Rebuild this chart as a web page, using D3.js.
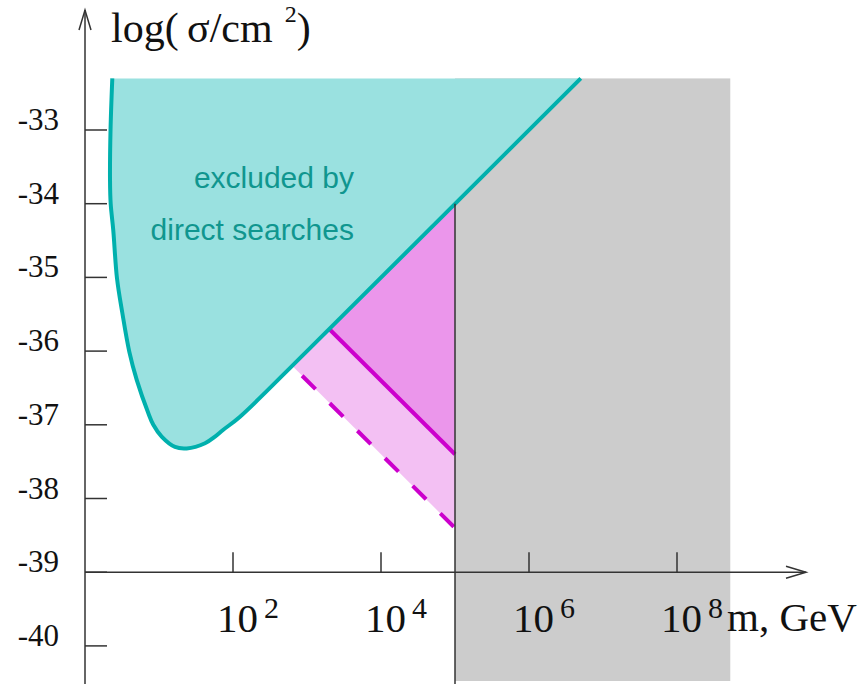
<!DOCTYPE html>
<html>
<head>
<meta charset="utf-8">
<script src="https://cdn.jsdelivr.net/npm/d3@7"></script>
<style>
  body { margin: 0; background: #fff; }
  svg { display: block; }
  .serif { font-family: "Liberation Serif", "Times New Roman", serif; fill: #111; }
</style>
</head>
<body>
<div class="chart"></div>
<script>
// log10(m / GeV) and log10(sigma / cm^2)
const massTicks = [2, 4, 6, 8];
const sigmaTicks = [-33, -34, -35, -36, -37, -38, -39, -40];

// boundary of the region excluded by direct searches
const boundLogM  = [0.369, 0.345, 0.338, 0.347, 0.382, 0.432, 0.504, 0.599, 0.699, 0.855, 0.923, 1.036, 1.216, 1.374, 1.622, 1.757, 1.865, 2.095, 3.0, 6.7];
const boundSigma = [-32.3, -33.0, -33.68, -34.0, -34.36, -35.01, -35.48, -36.01, -36.39, -36.84, -37.0, -37.16, -37.3, -37.32, -37.25, -37.16, -37.07, -36.89, -36.0, -32.3];

const plotTop = -32.3;
const grayRange = [5, 8.72];      // shaded mass range
const cutMass = 5;                // vertical line

// magenta bands: from the boundary line down to the cut
const solidLine  = [[3.3, -35.7], [5, -37.4]];
const dashedLine = [[2.8, -36.2], [5, -38.4]];

const width = 862, height = 684;

const x = d3.scaleLinear().domain([0, 9]).range([85, 85 + 9 * 74]);
const y = d3.scaleLinear().domain([-39, -33]).range([572.2, 130]);

const svg = d3.select('.chart')
  .append('svg')
  .attr('width', width)
  .attr('height', height);

// gray band
svg.append('rect')
  .attr('x', x(grayRange[0]))
  .attr('y', y(plotTop))
  .attr('width', x(grayRange[1]) - x(grayRange[0]))
  .attr('height', 681 - y(plotTop))
  .attr('fill', '#cccccc');

const bound = boundLogM.map((d, i) => [d, boundSigma[i]]);

const line = d3.line()
  .x(d => x(d[0]))
  .y(d => y(d[1]))
  .curve(d3.curveCatmullRom.alpha(0.5));

// excluded region
svg.append('path')
  .attr('d', line(bound) + 'Z')
  .attr('fill', '#9ae1e0');

// light and dark magenta bands
const onLine = (m) => [m, m - 39];
const lightBand = [dashedLine[0], onLine(solidLine[0][0]), solidLine[1], dashedLine[1]];
const darkBand = [solidLine[0], onLine(cutMass), solidLine[1]];

const poly = d3.line().x(d => x(d[0])).y(d => y(d[1]));

svg.append('path')
  .attr('d', poly(lightBand) + 'Z')
  .attr('fill', '#f3c0f3');

svg.append('path')
  .attr('d', poly(darkBand) + 'Z')
  .attr('fill', '#eb96eb');

svg.append('path')
  .attr('d', poly(solidLine))
  .attr('fill', 'none')
  .attr('stroke', '#cc00cc')
  .attr('stroke-width', 4);

svg.append('path')
  .attr('d', poly(dashedLine))
  .attr('fill', 'none')
  .attr('stroke', '#cc00cc')
  .attr('stroke-width', 4)
  .attr('stroke-dasharray', '19,20')
  .attr('stroke-dashoffset', 25);

// boundary stroke
svg.append('path')
  .attr('d', line(bound))
  .attr('fill', 'none')
  .attr('stroke', '#00b0ad')
  .attr('stroke-width', 4);

// vertical cut line
svg.append('line')
  .attr('x1', x(cutMass)).attr('x2', x(cutMass))
  .attr('y1', y(cutMass - 39)).attr('y2', height)
  .attr('stroke', '#333')
  .attr('stroke-width', 1.5);

// axes
const axisG = svg.append('g')
  .attr('stroke', '#333')
  .attr('stroke-width', 1.5)
  .attr('fill', 'none');

axisG.append('line')
  .attr('x1', x(0)).attr('x2', x(0))
  .attr('y1', 10).attr('y2', height);
axisG.append('path')
  .attr('d', `M${x(0) - 6},30L${x(0)},10L${x(0) + 6},30`);

axisG.append('line')
  .attr('x1', x(0)).attr('x2', 806)
  .attr('y1', y(-39)).attr('y2', y(-39));
axisG.append('path')
  .attr('d', `M786,${y(-39) - 6}L806,${y(-39)}L786,${y(-39) + 6}`);

axisG.selectAll('.ytick')
  .data(sigmaTicks)
  .join('line')
  .attr('x1', x(0)).attr('x2', x(0) + 22)
  .attr('y1', d => y(d)).attr('y2', d => y(d));

axisG.selectAll('.xtick')
  .data(massTicks)
  .join('line')
  .attr('x1', d => x(d)).attr('x2', d => x(d))
  .attr('y1', y(-39) - 20).attr('y2', y(-39));

// tick labels
svg.selectAll('.ylab')
  .data(sigmaTicks)
  .join('text')
  .attr('class', 'serif')
  .attr('x', 59)
  .attr('y', d => y(d))
  .attr('text-anchor', 'end')
  .attr('font-size', 31)
  .text(d => '-' + Math.abs(d));

const xl = svg.selectAll('.xlab')
  .data(massTicks)
  .join('text')
  .attr('class', 'serif')
  .attr('x', d => x(d) - 16)
  .attr('y', 632)
  .attr('font-size', 41);
xl.append('tspan').text('10');
xl.append('tspan')
  .attr('font-size', 30)
  .attr('dx', 6)
  .attr('dy', -14)
  .text(d => d);

svg.append('text')
  .attr('class', 'serif')
  .attr('x', 727)
  .attr('y', 631)
  .attr('font-size', 41)
  .text('m, GeV');

const yl = svg.append('text')
  .attr('class', 'serif')
  .attr('x', 111)
  .attr('y', 42)
  .attr('font-size', 42);
yl.append('tspan').text('log(\u2009\u03c3/cm');
yl.append('tspan').attr('font-size', 24).attr('dx', 12).attr('dy', -20).text('2');
yl.append('tspan').attr('dx', 0).attr('dy', 20).text(')');

// region label
const lab = svg.append('text')
  .attr('font-family', '"Liberation Sans", Arial, sans-serif')
  .attr('font-size', 30)
  .attr('fill', '#10968f')
  .attr('text-anchor', 'end');
lab.append('tspan').attr('x', 354).attr('y', 188).text('excluded by');
lab.append('tspan').attr('x', 354).attr('y', 240).text('direct searches');
</script>
</body>
</html>
